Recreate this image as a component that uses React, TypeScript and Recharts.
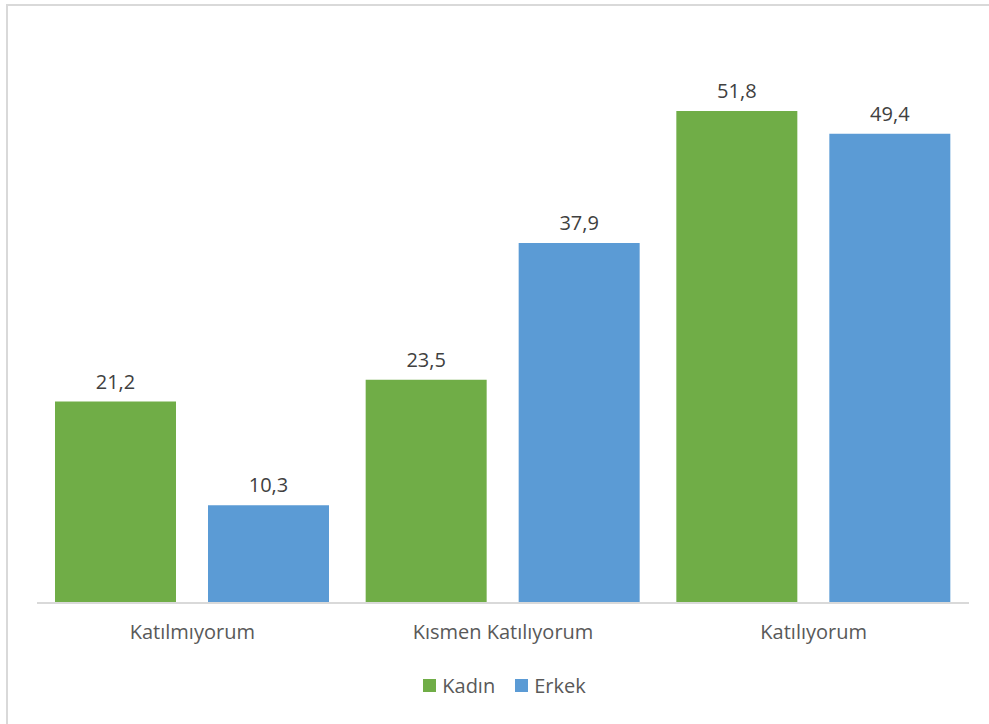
import React from "react";
import { Bar, BarChart, LabelList, XAxis, YAxis } from "recharts";

const categories = ["Katılmıyorum", "Kısmen Katılıyorum", "Katılıyorum"];
const kadin = [21.2, 23.5, 51.8];
const erkek = [10.3, 37.9, 49.4];

const GREEN = "#70AD47";
const BLUE = "#5B9BD5";
const FONT = "'Open Sans', sans-serif";

const data = categories.map((name, i) => ({ name, kadin: kadin[i], erkek: erkek[i] }));

const fmt = (v: any) => String(v).replace(".", ",");

export default function App() {
  return (
    <div style={{ position: "absolute", left: 0, top: 0, width: 989, height: 724, overflow: "hidden", background: "#fff", fontFamily: FONT }}>
      <div style={{ position: "absolute", left: 6, top: 4, width: 1100, height: 900, border: "2px solid #d9d9d9" }} />
      <div style={{ position: "absolute", left: 0, top: 0 }}>
        <BarChart
          width={989}
          height={724}
          data={data}
          margin={{ top: 33, right: 20, left: 37, bottom: 71 }}
          barGap={32}
          barSize={121}
        >
          <XAxis
            dataKey="name"
            height={50}
            axisLine={{ stroke: "#d9d9d9", strokeWidth: 2 }}
            tickLine={false}
            tick={{ fill: "#595959", fontSize: 20, fontFamily: FONT }}
            tickMargin={16}
          />
          <YAxis hide domain={[0, 60]} />
          <Bar dataKey="kadin" fill={GREEN} isAnimationActive={false}>
            <LabelList dataKey="kadin" position="top" offset={13} formatter={fmt} fill="#404040" fontSize={20} fontFamily={FONT} />
          </Bar>
          <Bar dataKey="erkek" fill={BLUE} isAnimationActive={false}>
            <LabelList dataKey="erkek" position="top" offset={13} formatter={fmt} fill="#404040" fontSize={20} fontFamily={FONT} />
          </Bar>
        </BarChart>
      </div>
      <div style={{ position: "absolute", left: 10, width: 989, top: 672, display: "flex", justifyContent: "center", alignItems: "center", fontSize: 20, color: "#595959" }}>
        <span style={{ display: "inline-block", width: 13, height: 13, background: GREEN, marginRight: 6 }} />
        <span>Kadın</span>
        <span style={{ display: "inline-block", width: 13, height: 13, background: BLUE, marginRight: 6, marginLeft: 20 }} />
        <span>Erkek</span>
      </div>
    </div>
  );
}
